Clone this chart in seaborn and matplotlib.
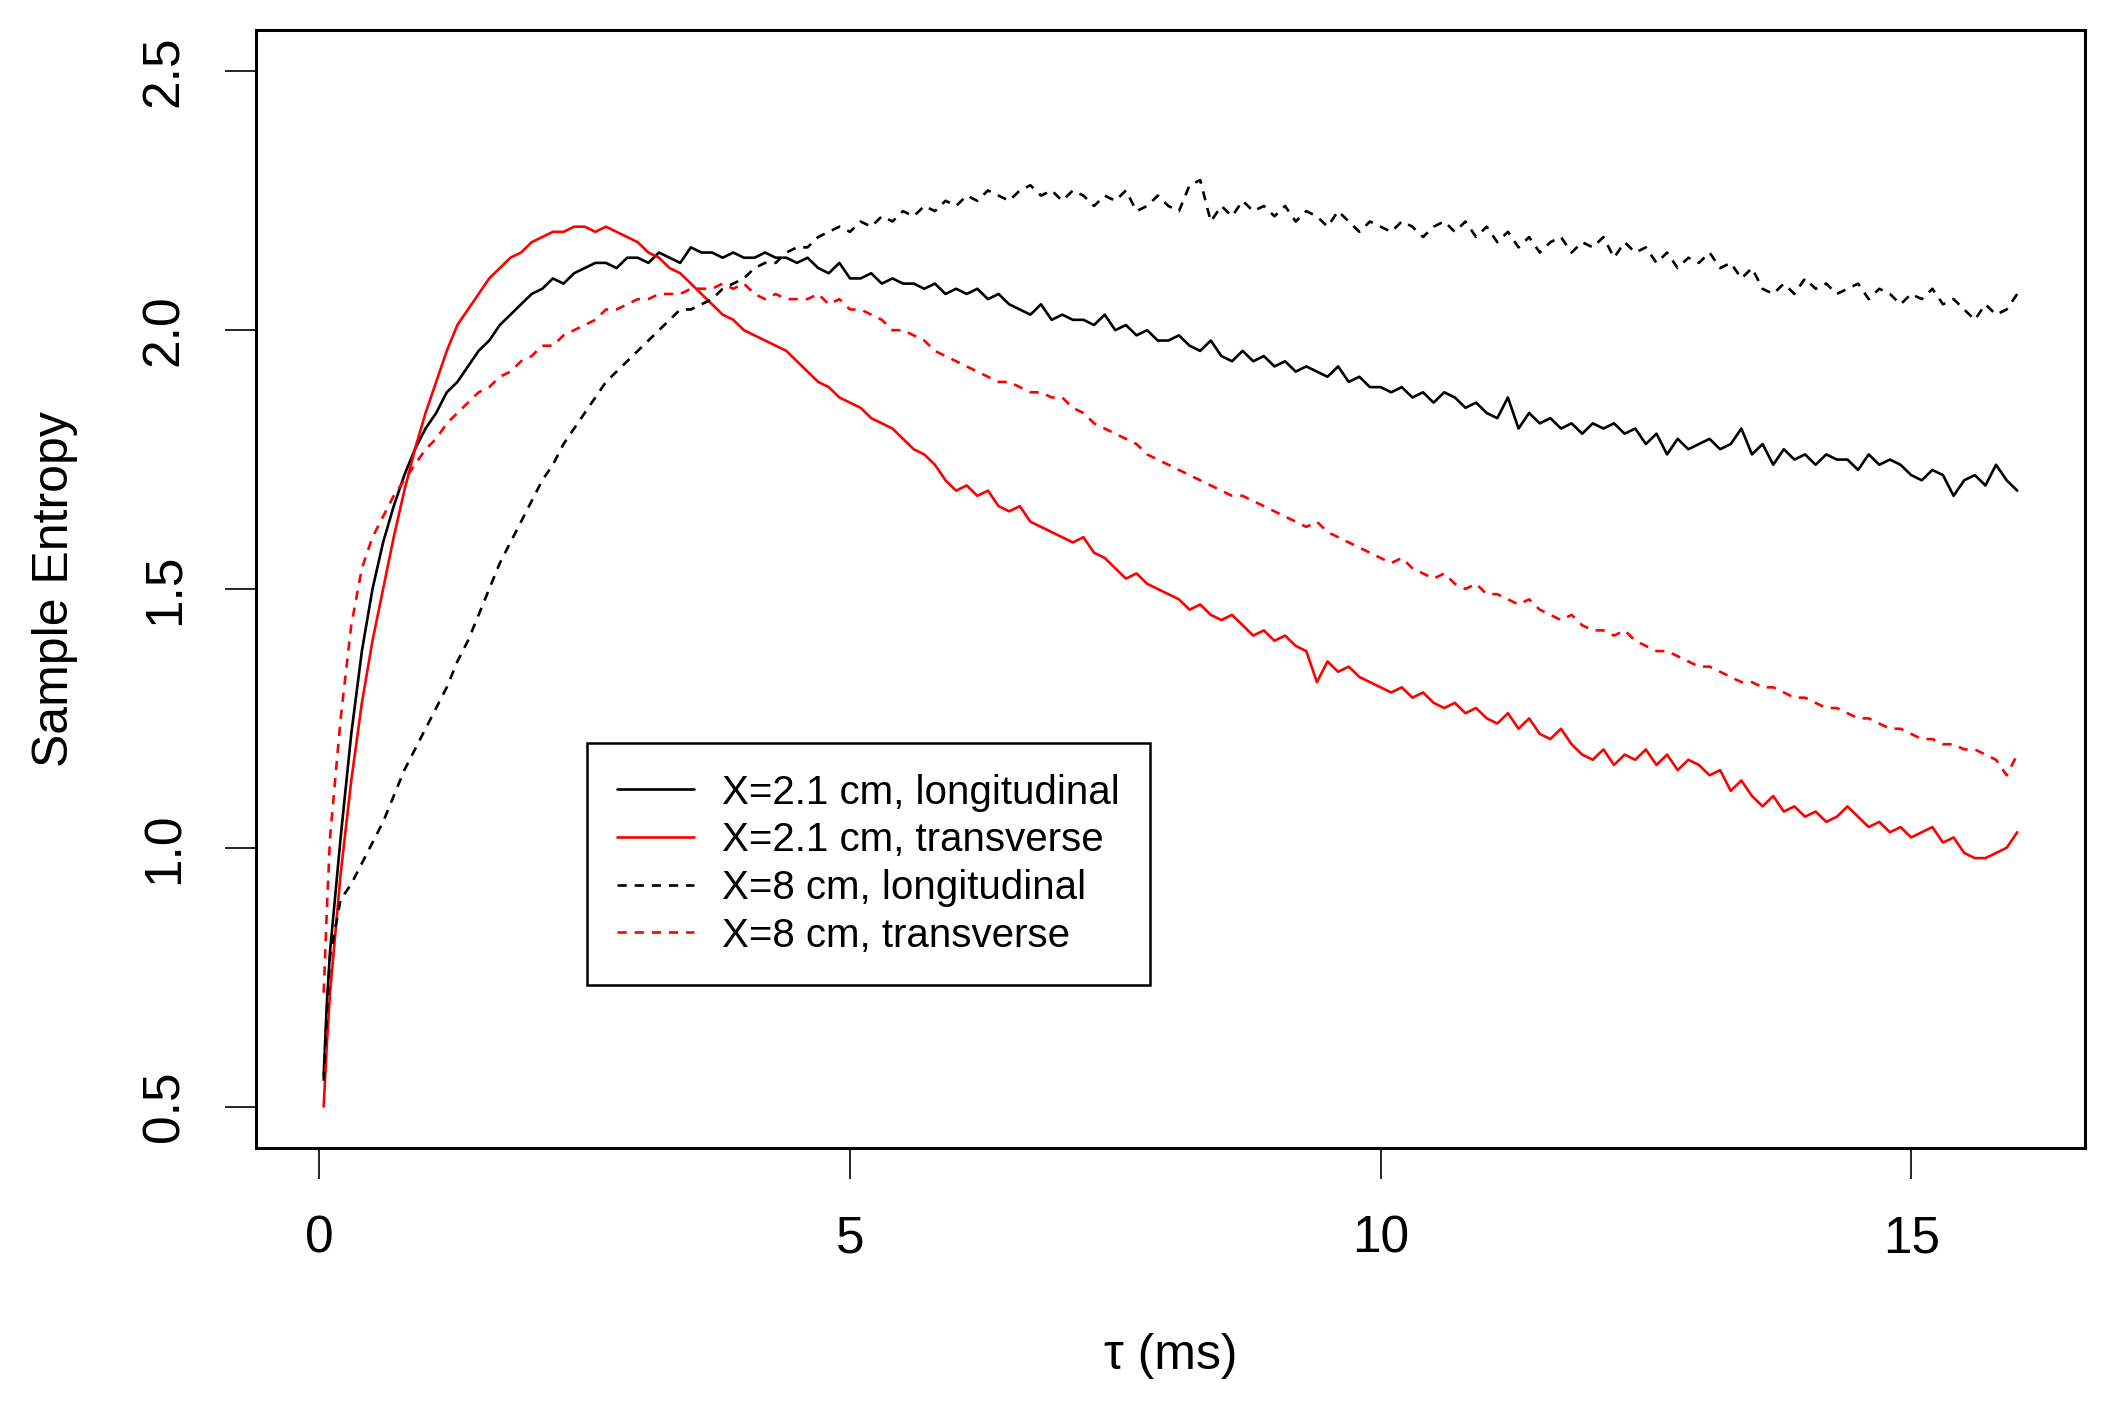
import numpy as np
import pandas as pd
import matplotlib
matplotlib.use("Agg")
import matplotlib.pyplot as plt
import seaborn as sns

# ---- data -------------------------------------------------------------
TAU_EARLY = [0.04, 0.07]
tau = np.round(np.concatenate([TAU_EARLY, 0.1 * np.arange(1, 161)]), 2)

long_21 = [0.56, 0.70,
    0.80, 1.02, 1.22, 1.38, 1.50, 1.59, 1.66, 1.72, 1.77, 1.81,
    1.84, 1.88, 1.90, 1.93, 1.96, 1.98, 2.01, 2.03, 2.05, 2.07,
    2.08, 2.10, 2.09, 2.11, 2.12, 2.13, 2.13, 2.12, 2.14, 2.14,
    2.13, 2.15, 2.14, 2.13, 2.16, 2.15, 2.15, 2.14, 2.15, 2.14,
    2.14, 2.15, 2.14, 2.14, 2.13, 2.14, 2.12, 2.11, 2.13, 2.10,
    2.10, 2.11, 2.09, 2.10, 2.09, 2.09, 2.08, 2.09, 2.07, 2.08,
    2.07, 2.08, 2.06, 2.07, 2.05, 2.04, 2.03, 2.05, 2.02, 2.03,
    2.02, 2.02, 2.01, 2.03, 2.00, 2.01, 1.99, 2.00, 1.98, 1.98,
    1.99, 1.97, 1.96, 1.98, 1.95, 1.94, 1.96, 1.94, 1.95, 1.93,
    1.94, 1.92, 1.93, 1.92, 1.91, 1.93, 1.90, 1.91, 1.89, 1.89,
    1.88, 1.89, 1.87, 1.88, 1.86, 1.88, 1.87, 1.85, 1.86, 1.84,
    1.83, 1.87, 1.81, 1.84, 1.82, 1.83, 1.81, 1.82, 1.80, 1.82,
    1.81, 1.82, 1.80, 1.81, 1.78, 1.80, 1.76, 1.79, 1.77, 1.78,
    1.79, 1.77, 1.78, 1.81, 1.76, 1.78, 1.74, 1.77, 1.75, 1.76,
    1.74, 1.76, 1.75, 1.75, 1.73, 1.76, 1.74, 1.75, 1.74, 1.72,
    1.71, 1.73, 1.72, 1.68, 1.71, 1.72, 1.70, 1.74, 1.71, 1.69]

trans_21 = [0.50, 0.62,
    0.72, 0.95, 1.13, 1.28, 1.40, 1.50, 1.60, 1.69, 1.77, 1.84,
    1.90, 1.96, 2.01, 2.04, 2.07, 2.10, 2.12, 2.14, 2.15, 2.17,
    2.18, 2.19, 2.19, 2.20, 2.20, 2.19, 2.20, 2.19, 2.18, 2.17,
    2.15, 2.14, 2.12, 2.11, 2.09, 2.07, 2.05, 2.03, 2.02, 2.00,
    1.99, 1.98, 1.97, 1.96, 1.94, 1.92, 1.90, 1.89, 1.87, 1.86,
    1.85, 1.83, 1.82, 1.81, 1.79, 1.77, 1.76, 1.74, 1.71, 1.69,
    1.70, 1.68, 1.69, 1.66, 1.65, 1.66, 1.63, 1.62, 1.61, 1.60,
    1.59, 1.60, 1.57, 1.56, 1.54, 1.52, 1.53, 1.51, 1.50, 1.49,
    1.48, 1.46, 1.47, 1.45, 1.44, 1.45, 1.43, 1.41, 1.42, 1.40,
    1.41, 1.39, 1.38, 1.32, 1.36, 1.34, 1.35, 1.33, 1.32, 1.31,
    1.30, 1.31, 1.29, 1.30, 1.28, 1.27, 1.28, 1.26, 1.27, 1.25,
    1.24, 1.26, 1.23, 1.25, 1.22, 1.21, 1.23, 1.20, 1.18, 1.17,
    1.19, 1.16, 1.18, 1.17, 1.19, 1.16, 1.18, 1.15, 1.17, 1.16,
    1.14, 1.15, 1.11, 1.13, 1.10, 1.08, 1.10, 1.07, 1.08, 1.06,
    1.07, 1.05, 1.06, 1.08, 1.06, 1.04, 1.05, 1.03, 1.04, 1.02,
    1.03, 1.04, 1.01, 1.02, 0.99, 0.98, 0.98, 0.99, 1.00, 1.03]

long_8 = [0.55, 0.68,
    0.79, 0.90, 0.93, 0.97, 1.01, 1.05, 1.10, 1.15, 1.19, 1.23,
    1.27, 1.31, 1.36, 1.40, 1.45, 1.50, 1.55, 1.59, 1.63, 1.67,
    1.71, 1.74, 1.78, 1.81, 1.84, 1.87, 1.90, 1.92, 1.94, 1.96,
    1.98, 2.00, 2.02, 2.04, 2.04, 2.05, 2.06, 2.08, 2.09, 2.10,
    2.12, 2.13, 2.13, 2.15, 2.16, 2.16, 2.18, 2.19, 2.20, 2.19,
    2.21, 2.20, 2.22, 2.21, 2.23, 2.22, 2.24, 2.23, 2.25, 2.24,
    2.26, 2.25, 2.27, 2.26, 2.25, 2.27, 2.28, 2.26, 2.27, 2.25,
    2.27, 2.26, 2.24, 2.26, 2.25, 2.27, 2.23, 2.24, 2.26, 2.24,
    2.23, 2.28, 2.29, 2.21, 2.24, 2.22, 2.25, 2.23, 2.24, 2.22,
    2.24, 2.21, 2.23, 2.22, 2.20, 2.23, 2.21, 2.19, 2.21, 2.20,
    2.19, 2.21, 2.20, 2.18, 2.20, 2.21, 2.19, 2.21, 2.18, 2.20,
    2.17, 2.19, 2.16, 2.18, 2.15, 2.17, 2.18, 2.15, 2.17, 2.16,
    2.18, 2.14, 2.17, 2.15, 2.16, 2.13, 2.15, 2.12, 2.14, 2.13,
    2.15, 2.12, 2.13, 2.10, 2.12, 2.08, 2.07, 2.09, 2.07, 2.10,
    2.08, 2.09, 2.07, 2.08, 2.09, 2.06, 2.08, 2.07, 2.05, 2.07,
    2.06, 2.08, 2.05, 2.06, 2.04, 2.02, 2.05, 2.03, 2.04, 2.07]

trans_8 = [0.72, 0.88,
    1.02, 1.25, 1.43, 1.54, 1.60, 1.64, 1.68, 1.71, 1.74, 1.77,
    1.79, 1.82, 1.84, 1.86, 1.88, 1.89, 1.91, 1.92, 1.94, 1.95,
    1.97, 1.97, 1.99, 2.00, 2.01, 2.02, 2.04, 2.04, 2.05, 2.06,
    2.06, 2.07, 2.07, 2.07, 2.08, 2.08, 2.08, 2.09, 2.08, 2.09,
    2.07, 2.06, 2.07, 2.06, 2.06, 2.06, 2.07, 2.05, 2.06, 2.04,
    2.04, 2.03, 2.02, 2.00, 2.00, 1.99, 1.98, 1.96, 1.95, 1.94,
    1.93, 1.92, 1.91, 1.90, 1.90, 1.89, 1.88, 1.88, 1.87, 1.87,
    1.85, 1.84, 1.82, 1.81, 1.80, 1.79, 1.78, 1.76, 1.75, 1.74,
    1.73, 1.72, 1.71, 1.70, 1.69, 1.68, 1.68, 1.67, 1.66, 1.65,
    1.64, 1.63, 1.62, 1.63, 1.61, 1.60, 1.59, 1.58, 1.57, 1.56,
    1.55, 1.56, 1.54, 1.53, 1.52, 1.53, 1.51, 1.50, 1.51, 1.49,
    1.49, 1.48, 1.47, 1.48, 1.46, 1.45, 1.44, 1.45, 1.43, 1.42,
    1.42, 1.41, 1.42, 1.40, 1.39, 1.38, 1.38, 1.37, 1.36, 1.35,
    1.35, 1.34, 1.33, 1.32, 1.32, 1.31, 1.31, 1.30, 1.29, 1.29,
    1.28, 1.27, 1.27, 1.26, 1.25, 1.25, 1.24, 1.23, 1.23, 1.22,
    1.21, 1.21, 1.20, 1.20, 1.19, 1.19, 1.18, 1.17, 1.14, 1.18]

series_labels = ["X=2.1 cm, longitudinal", "X=2.1 cm, transverse",
                 "X=8 cm, longitudinal", "X=8 cm, transverse"]
series_values = [long_21, trans_21, long_8, trans_8]
series_colors = ["black", "red", "black", "red"]
series_dashed = [False, False, True, True]

x_ticks = [0, 5, 10, 15]
y_ticks = [0.5, 1.0, 1.5, 2.0, 2.5]
x_label = "τ (ms)"
y_label = "Sample Entropy"

# ---- style -------------------------------------------------------------
sns.set_theme(style="white")
plt.rcParams['font.family'] = ['Liberation Sans', 'DejaVu Sans']
plt.rcParams['text.color'] = 'black'
plt.rcParams['axes.labelcolor'] = 'black'

fig = plt.figure(figsize=(21.12, 14.01), dpi=100)
ax = fig.add_axes([0.1212, 0.1806, 0.8660, 0.7980])

df = pd.DataFrame({"tau": np.tile(tau, len(series_labels)),
                   "value": np.concatenate(series_values),
                   "series": np.repeat(series_labels, len(tau))})

for lab, col, dsh in zip(series_labels, series_colors, series_dashed):
    sub = df[df["series"] == lab]
    sns.lineplot(data=sub, x="tau", y="value", ax=ax, color=col,
                 linewidth=1.9, estimator=None, sort=False, legend=False)
    if dsh:
        ax.lines[-1].set_dashes([3.5, 3.0])
        ax.lines[-1].set_dash_capstyle("butt")
    ax.lines[-1].set_label(lab)

ax.set_xlim(-0.598, 16.638)
ax.set_ylim(0.42, 2.58)
ax.set_xticks(x_ticks)
ax.set_yticks(y_ticks)
ax.set_xticklabels([str(t) for t in x_ticks])
ax.set_yticklabels([f"{t:.1f}" for t in y_ticks])

ax.tick_params(axis="both", which="major", direction="out", length=22,
               width=1.2, color="black", labelsize=37, pad=26, left=True,
               bottom=True, labelcolor="black")
for lbl in ax.get_yticklabels():
    lbl.set_rotation(90)
    lbl.set_va("center")
    lbl.set_ha("right")

for sp in ax.spines.values():
    sp.set_color("black")
    sp.set_linewidth(2.2)

ax.set_xlabel(x_label, fontsize=36, labelpad=50, color="black")
ax.set_ylabel(y_label, fontsize=36, labelpad=45, color="black")
ax.grid(False)

leg = ax.legend(handles=ax.lines[:4], loc="lower left",
                bbox_to_anchor=(0.181, 0.146), fontsize=29,
                frameon=True, fancybox=False, edgecolor="black",
                framealpha=1, handlelength=1.9, handletextpad=0.7,
                labelspacing=0.24, borderpad=0.75, borderaxespad=0)
leg.get_frame().set_linewidth(1.8)
for t in leg.get_texts():
    t.set_color("black")

fig.savefig("out.png", dpi=100, facecolor="white")
